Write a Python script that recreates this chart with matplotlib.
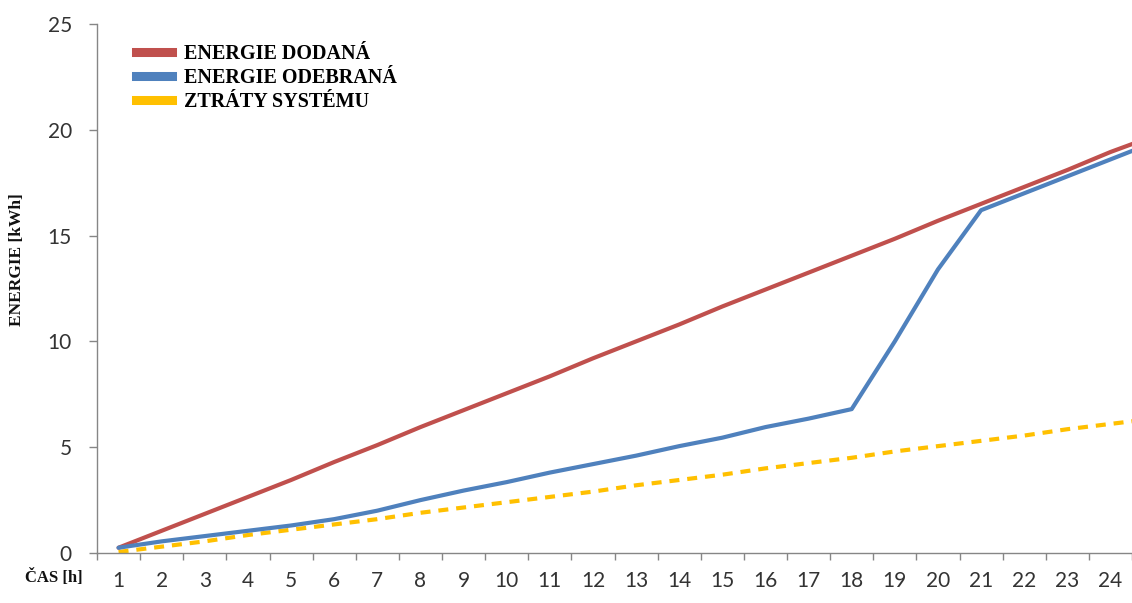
import matplotlib
matplotlib.use('Agg')
import matplotlib.pyplot as plt
from matplotlib.lines import Line2D
import numpy as np

# hours (the 25th point is cut by the right edge of the picture)
hours = list(range(1, 26))
hour_labels = [str(h) for h in range(1, 25)]

dodana = [0.25, 1.05, 1.85, 2.65, 3.45, 4.3, 5.1, 5.95, 6.75, 7.55, 8.35, 9.2,
          10.0, 10.8, 11.65, 12.45, 13.25, 14.05, 14.85, 15.7, 16.5, 17.3,
          18.1, 18.95, 19.7]
odebrana = [0.25, 0.55, 0.8, 1.05, 1.3, 1.6, 2.0, 2.5, 2.95, 3.35, 3.8, 4.2,
            4.6, 5.05, 5.45, 5.95, 6.35, 6.8, 10.0, 13.4, 16.2, 17.0, 17.8,
            18.6, 19.4]
ztraty = [0.05, 0.3, 0.55, 0.85, 1.1, 1.35, 1.6, 1.9, 2.15, 2.4, 2.65, 2.9,
          3.2, 3.45, 3.7, 4.0, 4.25, 4.5, 4.8, 5.05, 5.3, 5.55, 5.85, 6.1, 6.35]

labels = ['ENERGIE DODANÁ', 'ENERGIE ODEBRANÁ', 'ZTRÁTY SYSTÉMU']
colors = ['#C0504D', '#4F81BD', '#FFC000']

W, H = 1132, 603
fig = plt.figure(figsize=(W / 100, H / 100), dpi=100)
ax_left, ax_bottom, ax_top = 97, 553, 24
ax = fig.add_axes([ax_left / W, (H - ax_bottom) / H, 1 - ax_left / W,
                   (ax_bottom - ax_top) / H])

ax.plot(hours, dodana, color=colors[0], lw=3, solid_capstyle='round', zorder=3)
ax.plot(hours, odebrana, color=colors[1], lw=3, solid_capstyle='round', zorder=4)
ax.plot(hours, ztraty, color=colors[2], lw=3, dashes=(2.4, 1.9), zorder=2)

step = 43.4
ax.set_xlim(0.5, 0.5 + (W - ax_left) / step)
ax.set_ylim(0, 25)
ax.set_yticks([0, 5, 10, 15, 20, 25])

ax.set_xticks(range(1, 25))
ax.set_xticklabels(hour_labels)
ax.set_xticks(np.arange(0.5, 25, 1), minor=True)
ax.tick_params(axis='x', which='major', length=0, pad=13)
ax.tick_params(axis='x', which='minor', length=5, width=1, color='#868686',
               direction='out')
ax.tick_params(axis='y', length=6, width=1, color='#868686', pad=12)
for lab in ax.get_xticklabels() + ax.get_yticklabels():
    lab.set_fontfamily('Lato')
    lab.set_fontsize(15)
    lab.set_color('#333333')

for s in ['top', 'right']:
    ax.spines[s].set_visible(False)
for s in ['left', 'bottom']:
    ax.spines[s].set_color('#868686')
    ax.spines[s].set_linewidth(1)

fig.text(17 / W, 1 - 260 / H, 'ENERGIE [kWh]', rotation=90, ha='center',
         va='center', fontsize=12.5, family='Liberation Serif',
         fontweight='bold', color='#111111')
fig.text(54 / W, 1 - 577 / H, 'ČAS [h]', ha='center', va='center',
         fontsize=12, family='Liberation Serif', fontweight='bold',
         color='#111111')

handles = [Line2D([], [], color=c, lw=6.5) for c in colors]
ax.legend(handles, labels, loc='upper left', bbox_to_anchor=(136 / W, 1 - 44 / H),
          bbox_transform=fig.transFigure, frameon=False, borderpad=0,
          borderaxespad=0, handlelength=1.8, handletextpad=0.6,
          labelspacing=0.2, prop={'family': 'Liberation Serif', 'size': 14.5,
                                  'weight': 'bold'})

fig.savefig('out.png', dpi=100)
